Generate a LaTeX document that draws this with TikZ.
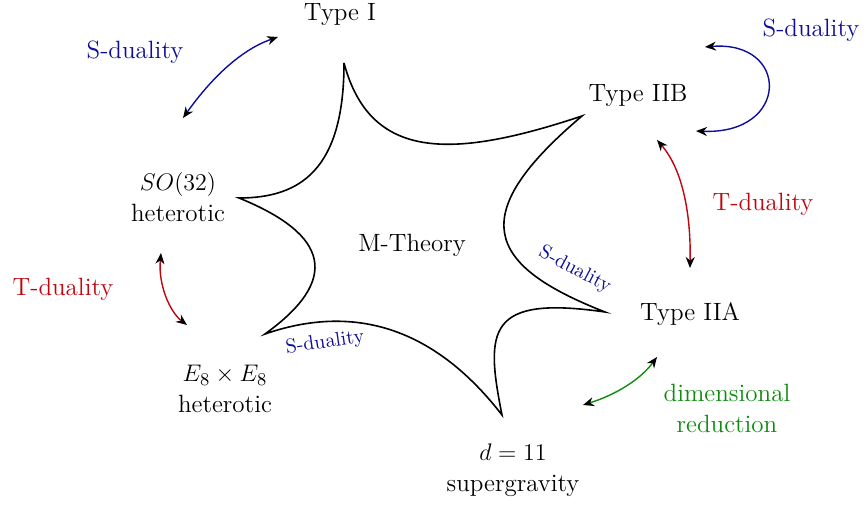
\documentclass[tikz,border=0pt]{standalone}
\usetikzlibrary{arrows.meta}
\definecolor{sblue}{rgb}{0.05,0.05,0.6}
\definecolor{tred}{rgb}{0.75,0.02,0.05}
\definecolor{dgreen}{rgb}{0.05,0.55,0.05}
\tikzset{
  lbl/.style={font=\fontsize{12.5}{15.5}\selectfont, align=center, inner sep=0pt},
  small/.style={font=\fontsize{10}{12}\selectfont, inner sep=0pt, text=sblue},
  dual/.style={line width=0.7pt, {Stealth[black,length=5.5pt,width=4.5pt]}-{Stealth[black,length=5.5pt,width=4.5pt]}},
  star/.style={line width=0.8pt, black}
}
\begin{document}
\begin{tikzpicture}[x=0.5pt,y=-0.5pt]
\useasboundingbox (0,0) rectangle (868,507);
% nodes
\node[lbl] (t1) at (340,15) {Type I};
\node[lbl] (so) at (178,197) {$SO(32)$\\heterotic};
\node[lbl] (e8) at (225,389) {$E_8\times E_8$\\heterotic};
\node[lbl] (sg) at (513,470) {$d=11$\\supergravity};
\node[lbl] (iia) at (690,314) {Type IIA};
\node[lbl] (iib) at (638,96) {Type IIB};
\node[lbl] (m) at (412,245) {M-Theory};
% labels
\node[lbl, text=sblue] (s1) at (135,52) {S-duality};
\node[lbl, text=sblue] (s2) at (811,30) {S-duality};
\node[lbl, text=tred] (tl) at (63,289) {T-duality};
\node[lbl, text=tred] (tr) at (763,204) {T-duality};
\node[lbl, text=dgreen] (dr) at (727,408) {dimensional\\reduction};
\node[small, rotate=8] (s3) at (325,343) {S-duality};
\node[small, rotate=-28] (s4) at (575,270) {S-duality};
% star cusps
\coordinate (ct) at (344,63);
\coordinate (cur) at (582,116);
\coordinate (cr) at (605,312);
\coordinate (cb) at (502,415);
\coordinate (cll) at (265,334);
\coordinate (cl) at (239,198);
\draw[star] (ct) .. controls (370,160) and (450,160) .. (cur)
  .. controls (465,215) and (485,265) .. (cr)
  .. controls (487,295) and (485,330) .. (cb)
  .. controls (427,318) and (343,307) .. (cll)
  .. controls (340,280) and (330,235) .. (cl)
  .. controls (300,198) and (344,170) .. (ct);
% arrow ends
\coordinate (a1) at (183,118); \coordinate (a2) at (278,37);
\coordinate (b1) at (705,47); \coordinate (b2) at (696,131);
\coordinate (r1) at (657,140); \coordinate (r2) at (690,268);
\coordinate (l1) at (161,253); \coordinate (l2) at (187,325);
\coordinate (g1) at (583,405); \coordinate (g2) at (657,357);
\draw[dual, sblue] (a1) .. controls (210,80) and (240,50) .. (a2);
\draw[dual, sblue] (b1) .. controls (790,40) and (790,135) .. (b2);
\draw[dual, tred] (r1) .. controls (683,170) and (691,215) .. (r2);
\draw[dual, tred] (l1) .. controls (158,285) and (170,312) .. (l2);
\draw[dual, dgreen] (g1) .. controls (615,395) and (640,380) .. (g2);
\end{tikzpicture}
\end{document}
